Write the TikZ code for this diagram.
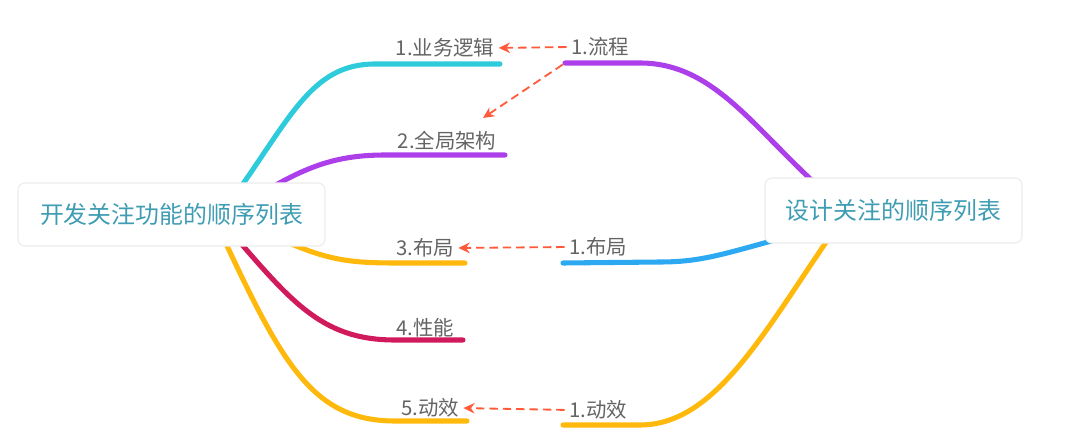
\documentclass[tikz,border=0pt]{standalone}
\usepackage{fontspec}
\setmainfont{Noto Sans CJK SC}
\usetikzlibrary{arrows.meta,backgrounds}

\definecolor{rootText}{HTML}{3F9DB3}
\definecolor{labelGray}{HTML}{646464}
\definecolor{boxEdge}{HTML}{ECECEC}
\definecolor{brCyan}{HTML}{2DCBDB}
\definecolor{brPurple}{HTML}{AD3FEB}
\definecolor{brYellow}{HTML}{FFB90D}
\definecolor{brRed}{HTML}{D01A5C}
\definecolor{brBlue}{HTML}{2DA9F2}
\definecolor{linkRed}{HTML}{FF5B3A}

\begin{document}
\begin{tikzpicture}[
    x=0.025cm, y=-0.025cm,
    rootbox/.style={
        draw=boxEdge, line width=0.8pt, fill=white,
        rounded corners=5pt,
        text=rootText,
        font=\fontsize{17}{19}\selectfont,
        inner sep=0pt,
    },
    topic/.style={text=labelGray, font=\fontsize{14.5}{16}\selectfont, inner sep=0pt},
    branch/.style={line width=3.6pt, line cap=round},
    link/.style={linkRed, line width=1.3pt, dash pattern=on 6pt off 3.5pt,
        -{Stealth[length=8pt,width=7.5pt]}},
]
\useasboundingbox (0,0) rectangle (1080,446);

% --- Root boxes ---
\node[rootbox, minimum width=7.675cm, minimum height=1.575cm] (dev) at (171.5,214.5)
    {开发关注功能的顺序列表};
\node[rootbox, minimum width=6.425cm, minimum height=1.625cm] (des) at (893.5,210.5)
    {设计关注的顺序列表};

% --- Topic labels (left) ---
\node[topic] (d1) at (445,48)  {1.业务逻辑};
\node[topic] (d2) at (447,141) {2.全局架构};
\node[topic] (d3) at (425,248) {3.布局};
\node[topic] (d4) at (425,328) {4.性能};
\node[topic] (d5) at (430,408) {5.动效};

% --- Topic labels (right) ---
\node[topic] (f1) at (600,47)  {1.流程};
\node[topic] (f2) at (598,247) {1.布局};
\node[topic] (f3) at (598,410) {1.动效};

% branch end points
\coordinate (d1a) at (375,64);  \coordinate (d1b) at (500,64);
\coordinate (d2a) at (385,155); \coordinate (d2b) at (505,155);
\coordinate (d3a) at (395,263); \coordinate (d3b) at (465,263);
\coordinate (d4a) at (395,340); \coordinate (d4b) at (463,340);
\coordinate (d5a) at (395,421); \coordinate (d5b) at (467,421);
\coordinate (f1a) at (565,63);  \coordinate (f1b) at (640,63);
\coordinate (f2a) at (563,263); \coordinate (f2b) at (660,262);
\coordinate (f3a) at (563,425); \coordinate (f3b) at (640,425);
\coordinate (f1in) at (840,205);
\coordinate (f3in) at (845,215);
\coordinate (d2tip) at (483,118);

% --- Branches behind the boxes ---
\begin{scope}[on background layer]
    \draw[branch, brCyan]   (228,205) .. controls (290,120) and (310,64) .. (d1a) -- (d1b);
    \draw[branch, brPurple] (250,200) .. controls (300,170) and (330,155) .. (d2a) -- (d2b);
    \draw[branch, brYellow] (260,230) .. controls (320,258) and (340,263) .. (d3a) -- (d3b);
    \draw[branch, brRed]    (225,225) .. controls (290,300) and (320,340) .. (d4a) -- (d4b);
    \draw[branch, brYellow] (215,220) .. controls (280,360) and (310,421) .. (d5a) -- (d5b);

    \draw[branch, brPurple] (f1a) -- (f1b) .. controls (720,63) and (760,140) .. (f1in);
    \draw[branch, brBlue]   (f2a) -- (f2b) .. controls (720,262) and (740,245) .. (des.center);
    \draw[branch, brYellow] (f3a) -- (f3b) .. controls (720,425) and (770,320) .. (f3in);
\end{scope}

% --- Dashed links ---
\draw[link, shorten <=3pt, shorten >=3pt] (f1.west) -- (d1.east);
\draw[link, shorten <=2pt] (f1a) -- (d2tip);
\draw[link, shorten <=3pt, shorten >=3pt] (f2.west) -- (d3.east);
\draw[link, shorten <=3pt, shorten >=3pt] (f3.west) -- (d5.east);

\end{tikzpicture}
\end{document}
